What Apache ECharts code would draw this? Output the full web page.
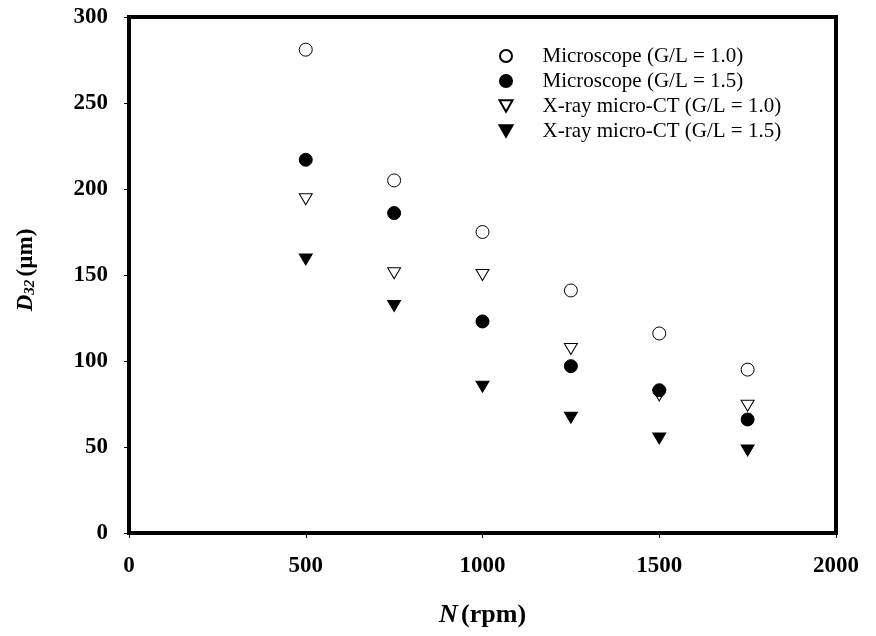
<!DOCTYPE html>
<html><head><meta charset="utf-8">
<script src="https://cdn.jsdelivr.net/npm/echarts@6/dist/echarts.min.js"></script>
<style>html,body{margin:0;padding:0;background:#fff}#c{width:876px;height:636px}</style>
</head><body><div id="c"></div>
<script>
var rpm = [500, 750, 1000, 1250, 1500, 1750];
var microG10 = [281, 205, 175, 141, 116, 95];
var microG15 = [217, 186, 123, 97, 83, 66];
var ctG10 = [194, 151, 150, 107, 80, 74];
var ctG15 = [159, 132, 85, 67, 55, 48];
var xTicks = [0, 500, 1000, 1500, 2000];
var yTicks = [0, 50, 100, 150, 200, 250, 300];
var seriesNames = ['Microscope (G/L = 1.0)', 'Microscope (G/L = 1.5)', 'X-ray micro-CT (G/L = 1.0)', 'X-ray micro-CT (G/L = 1.5)'];

var FONT = '"Liberation Serif", "Times New Roman", serif';
var tri = 'path://M0,0 L10,0 L5,8.66 Z';
function pairs(ys){ return rpm.map(function(x,i){ return [x, ys[i]]; }); }
var defs = [
  {ys: microG10, symbol: 'circle', size: 13, fill: '#fff', z: 3},
  {ys: microG15, symbol: 'circle', size: 13, fill: '#000', z: 3},
  {ys: ctG10, symbol: tri, size: [13, 11], fill: '#fff', z: 2},
  {ys: ctG15, symbol: tri, size: [13, 11], fill: '#000', z: 2}
];
var chart = echarts.init(document.getElementById('c'), null, {renderer: 'canvas'});
chart.setOption({
  backgroundColor: '#fff',
  animation: false,
  grid: {left: 129, right: 40, top: 17, bottom: 103, show: true, borderColor: '#000', borderWidth: 4, backgroundColor: 'transparent'},
  legend: {
    orient: 'vertical', left: 498.5, top: 45.5, padding: 0, itemWidth: 13, itemHeight: 12, itemGap: 4,
    data: seriesNames.map(function(n, i){ return {name: n, icon: defs[i].symbol}; }),
    textStyle: {fontFamily: FONT, fontSize: 21, color: '#000', padding: [0,0,0,25]}
  },
  xAxis: {
    type: 'value', min: 0, max: 2000, interval: 500,
    name: '{i|N} {b|(rpm)}', nameLocation: 'middle', nameGap: 69,
    nameTextStyle: {rich: {i: {fontFamily: FONT, fontSize: 26, fontWeight: 'bold', fontStyle: 'italic', color: '#000'}, b: {fontFamily: FONT, fontSize: 26, fontWeight: 'bold', color: '#000'}}},
    axisLine: {show: true, lineStyle: {color: '#000', width: 4}},
    axisTick: {show: true, inside: false, length: 5, lineStyle: {color: '#000', width: 1}},
    axisLabel: {margin: 22, fontFamily: FONT, fontSize: 23, fontWeight: 'bold', color: '#000',
      formatter: function(v){ return xTicks.indexOf(v) >= 0 ? String(v) : ''; }},
    splitLine: {show: false}
  },
  yAxis: {
    type: 'value', min: 0, max: 300, interval: 50,
    name: '{i|D}{s|32} {b|(µm)}', nameLocation: 'middle', nameGap: 91,
    nameTextStyle: {padding: [0, 0, 0, 10], rich: {i: {fontFamily: FONT, fontSize: 23, fontWeight: 'bold', fontStyle: 'italic', color: '#000'}, s: {fontFamily: FONT, fontSize: 15, fontWeight: 'bold', fontStyle: 'italic', color: '#000', verticalAlign: 'bottom', padding: [9,0,0,0]}, b: {fontFamily: FONT, fontSize: 23, fontWeight: 'bold', color: '#000'}}},
    axisLine: {show: true, lineStyle: {color: '#000', width: 4}},
    axisTick: {show: true, inside: false, length: 5, lineStyle: {color: '#000', width: 1}},
    axisLabel: {margin: 21, fontFamily: FONT, fontSize: 23, fontWeight: 'bold', color: '#000',
      formatter: function(v){ return yTicks.indexOf(v) >= 0 ? String(v) : ''; }},
    splitLine: {show: false}
  },
  series: defs.map(function(d, i){
    return {
      name: seriesNames[i], type: 'scatter', data: pairs(d.ys), z: d.z,
      symbol: d.symbol, symbolSize: d.size,
      itemStyle: {color: d.fill, borderColor: '#000', borderWidth: 1, opacity: 1},
      emphasis: {disabled: true}
    };
  })
});
</script></body></html>
